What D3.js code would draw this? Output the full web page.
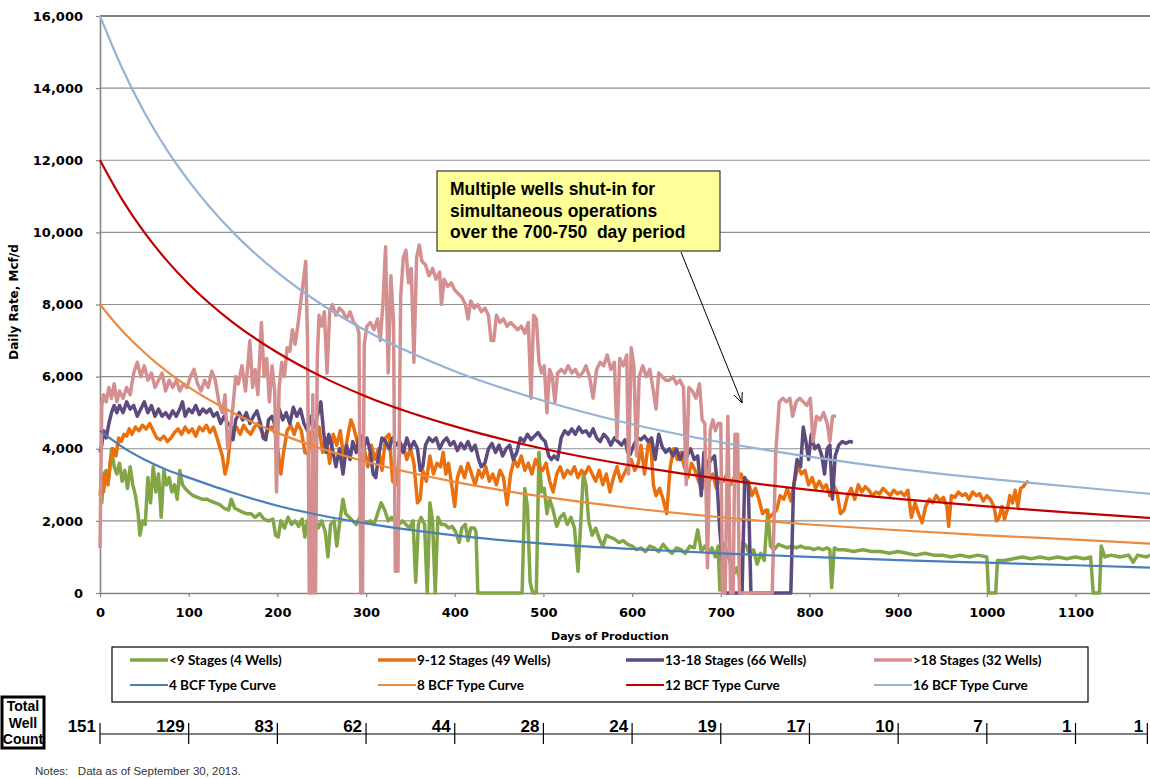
<!DOCTYPE html>
<html>
<head>
<meta charset="utf-8">
<script src="https://cdn.jsdelivr.net/npm/d3@7"></script>
<style>
body { margin: 0; background: #fff; }
svg text { font-family: "DejaVu Sans", Verdana, sans-serif; }
</style>
</head>
<body>
<div id="chart"></div>
<script>
// tick values
var yTicks = [0, 2000, 4000, 6000, 8000, 10000, 12000, 14000, 16000];
var xTicks = [0, 100, 200, 300, 400, 500, 600, 700, 800, 900, 1000, 1100];

// well count row under the chart
var wellCountDays = [0, 100, 200, 300, 400, 500, 600, 700, 800, 900, 1000, 1100, 1181];
var wellCounts = ["151", "129", "83", "62", "44", "28", "24", "19", "17", "10", "7", "1", "1"];

// type curves [day, Mcf/d]
var typeDays = [0, 25, 50, 75, 100, 150, 200, 250, 300, 400, 500, 600, 700, 800, 900, 1000, 1100, 1184];
var bcf4 = [4500, 4050, 3700, 3420, 3200, 2780, 2420, 2150, 1930, 1600, 1370, 1220, 1100, 1000, 910, 840, 770, 705];
var bcf8 = [8000, 7270, 6670, 6150, 5710, 5000, 4440, 4000, 3640, 3080, 2670, 2350, 2100, 1900, 1740, 1600, 1480, 1370];
var bcf12 = [12000, 10910, 10000, 9230, 8570, 7500, 6670, 6000, 5450, 4620, 4000, 3530, 3160, 2860, 2610, 2400, 2220, 2080];
var bcf16 = [16000, 14550, 13330, 12300, 11430, 10000, 8890, 8000, 7270, 6150, 5330, 4680, 4180, 3780, 3440, 3170, 2940, 2750];

// <9 stages [day, Mcf/d]
var stagesLt9 = [[0,2600],[2,2500],[4,3300],[7,3400],[10,3200],[13,4000],[16,3500],[19,3300],[22,3600],[25,3100],[28,3400],[31,2900],[34,3500],[37,3000],[40,2700],[43,2200],[45,1600],[48,2000],[51,1900],[54,3200],[57,2500],[60,3500],[63,2800],[66,3300],[69,2100],[72,3400],[75,3000],[78,3200],[81,2800],[84,3000],[87,2600],[90,3400],[93,3000],[96,2900],[100,2800],[105,2700],[110,2650],[115,2600],[120,2600],[125,2550],[130,2500],[135,2450],[140,2350],[145,2300],[148,2600],[152,2350],[156,2300],[160,2250],[165,2200],[170,2200],[175,2100],[180,2200],[185,2050],[190,2000],[195,2050],[198,1600],[201,1550],[204,2000],[208,1800],[212,2100],[216,1900],[220,2000],[224,1850],[228,2050],[231,1550],[234,2000],[238,1900],[242,2100],[246,1800],[250,2000],[254,1700],[257,1000],[260,1900],[264,2000],[267,1300],[270,1900],[274,2600],[277,2200],[281,2100],[285,2000],[289,1900],[293,2100],[297,2000],[301,1950],[305,2000],[309,1900],[313,2200],[317,2500],[321,2300],[325,2000],[329,2100],[333,2000],[337,1900],[341,2000],[345,1900],[349,1800],[353,2000],[356,300],[359,1900],[362,2100],[366,1900],[369,0],[372,2500],[375,2000],[378,0],[381,2100],[385,1900],[389,1900],[393,1800],[397,1850],[401,1700],[405,1400],[408,1800],[412,1900],[415,1450],[418,1800],[422,1800],[424,1700],[426,0],[476,0],[479,2900],[482,2400],[485,300],[488,0],[492,0],[495,3900],[498,2800],[501,2900],[504,2200],[507,2600],[511,2300],[515,1850],[519,2100],[523,2200],[527,1900],[531,2100],[535,1800],[539,600],[542,1900],[545,3300],[548,3000],[551,2000],[555,1600],[559,1800],[563,1500],[567,1300],[571,1600],[575,1550],[580,1500],[585,1400],[590,1450],[595,1350],[600,1300],[605,1200],[610,1250],[615,1150],[620,1300],[625,1250],[630,1150],[635,1350],[640,1200],[645,1100],[650,1250],[655,1200],[660,1100],[665,1300],[670,1250],[674,1750],[678,1150],[682,1300],[686,1100],[690,1250],[694,1000],[697,1300],[699,80],[702,1400],[706,1200],[710,900],[714,500],[718,700],[722,300],[725,1400],[729,1300],[733,1000],[737,1200],[741,800],[745,1100],[749,900],[753,2300],[756,1300],[760,1200],[765,1350],[770,1300],[775,1250],[780,1300],[785,1250],[790,1300],[795,1250],[800,1250],[805,1200],[810,1250],[815,1200],[820,1250],[823,1200],[825,150],[828,1250],[832,1200],[840,1200],[850,1150],[860,1200],[870,1150],[880,1150],[890,1100],[900,1150],[910,1100],[920,1050],[930,1100],[940,1050],[950,1050],[960,1000],[970,1050],[980,1000],[990,1050],[1000,1000],[1002,0],[1010,0],[1012,900],[1020,900],[1030,950],[1040,1000],[1050,950],[1060,1000],[1070,950],[1080,1000],[1090,950],[1100,1000],[1110,950],[1117,1000],[1120,0],[1127,0],[1129,1300],[1133,1000],[1140,1050],[1150,1000],[1160,1050],[1165,850],[1170,1050],[1180,1000],[1184,1050]];

// 9-12 stages
var stages9to12 = [[0,2700],[2,3200],[4,2800],[6,3300],[9,3000],[12,3700],[15,4000],[18,3800],[21,4300],[24,4200],[27,4400],[30,4350],[33,4550],[36,4400],[40,4600],[44,4500],[48,4650],[52,4550],[56,4700],[60,4500],[64,4300],[68,4250],[72,4350],[76,4200],[80,4300],[84,4450],[88,4550],[92,4400],[96,4600],[100,4450],[104,4550],[108,4350],[112,4600],[116,4500],[120,4650],[124,4450],[128,4600],[132,4300],[135,4050],[138,3800],[141,3300],[144,3600],[147,4300],[150,4500],[154,4600],[158,4400],[162,4650],[166,4500],[170,4400],[174,4600],[178,4700],[182,4500],[186,4350],[190,4550],[194,4600],[198,4400],[201,3900],[204,3300],[207,3900],[211,4500],[215,4650],[219,4400],[223,4700],[227,4500],[231,3900],[235,3850],[239,4500],[243,4200],[247,4600],[251,3900],[255,4300],[259,3600],[263,4400],[267,4100],[271,4500],[275,3700],[279,4300],[283,4800],[286,4600],[290,4200],[294,3700],[298,4000],[302,3500],[306,4100],[310,3700],[314,4000],[318,3400],[322,4300],[326,4400],[330,3100],[334,3000],[338,3900],[342,4100],[346,3700],[350,4000],[354,3600],[358,2500],[361,2600],[364,3400],[368,3100],[372,3800],[376,3300],[380,3600],[384,3500],[387,3900],[390,3300],[393,3600],[396,3100],[400,2400],[403,3200],[407,3500],[411,3200],[415,3600],[419,3300],[423,3000],[427,3400],[431,3200],[435,3500],[439,3100],[443,3300],[447,3000],[451,3400],[455,3200],[459,2450],[463,3300],[467,3700],[471,3500],[475,3800],[479,3400],[483,3600],[487,3300],[491,3700],[495,3500],[499,3400],[503,3600],[507,3100],[511,2800],[515,3300],[519,3500],[523,3200],[527,3400],[531,3300],[535,3500],[539,3200],[543,3400],[547,3300],[551,3500],[555,3300],[559,3100],[563,3400],[567,3000],[571,3300],[575,2800],[579,3200],[583,3500],[587,3100],[591,3300],[595,3500],[599,3700],[603,3400],[607,3600],[610,4100],[614,3300],[618,4100],[621,4200],[624,3000],[627,2700],[631,2900],[635,2600],[639,2200],[643,3500],[647,4000],[651,3700],[655,3900],[659,3500],[663,3200],[667,3600],[671,3400],[675,3100],[679,2900],[683,3500],[687,3100],[691,3300],[695,2900],[699,3200],[703,3100],[707,3300],[711,3000],[715,3200],[719,3100],[723,3300],[727,3000],[731,3100],[735,2700],[739,2900],[743,2600],[747,2200],[751,2300],[755,2100],[759,2200],[763,2300],[767,2700],[771,2600],[775,2900],[779,2550],[783,3100],[787,3500],[791,3300],[795,3400],[799,3000],[803,3200],[807,2900],[811,3100],[815,2900],[819,3000],[823,2700],[827,3000],[831,2800],[835,2200],[839,2300],[843,2700],[847,2900],[851,2600],[855,3000],[859,2800],[863,2950],[867,2850],[871,2700],[875,2800],[879,2750],[883,2900],[887,2800],[891,2700],[895,2850],[899,2750],[903,2800],[907,2700],[911,2850],[915,2100],[919,2500],[923,2200],[927,1950],[931,2400],[935,2600],[939,2500],[943,2700],[947,2550],[951,2650],[955,2400],[957,1850],[960,2700],[964,2650],[968,2800],[972,2700],[976,2750],[980,2600],[984,2800],[988,2700],[992,2750],[996,2550],[1000,2700],[1004,2600],[1008,2400],[1011,2000],[1014,2100],[1017,2400],[1020,2050],[1023,2300],[1026,2700],[1029,2500],[1032,2850],[1035,2400],[1038,2900],[1041,2950],[1044,3050],[1047,3100]];

// 13-18 stages
var stages13to18 = [[0,3900],[2,4100],[4,4500],[7,4300],[10,4700],[13,5000],[16,5200],[19,5000],[22,5200],[26,5000],[30,5300],[34,5100],[38,5200],[42,4900],[46,5100],[50,5300],[54,5000],[58,5200],[62,4900],[66,5100],[70,4900],[74,5000],[78,4850],[82,5050],[86,4900],[90,5100],[93,5300],[96,4900],[100,5100],[104,5000],[108,5200],[112,4950],[116,5100],[120,5000],[124,5100],[128,4900],[132,5000],[136,4700],[140,4900],[144,4700],[148,4600],[150,4250],[153,4800],[157,5000],[161,4800],[165,5000],[169,4700],[173,4900],[177,5050],[181,4700],[184,4300],[187,4250],[190,4800],[194,4900],[198,4600],[202,5100],[206,4800],[210,5000],[214,4700],[218,5150],[222,4900],[226,5100],[230,4700],[234,4500],[238,4900],[242,4600],[246,5000],[249,5300],[252,4500],[255,3900],[258,4400],[262,4000],[266,3500],[270,4000],[274,3300],[278,4100],[282,3700],[285,4200],[289,3900],[293,4400],[297,4000],[301,4300],[305,3900],[308,3300],[311,3200],[314,3800],[318,4300],[322,4200],[326,4000],[330,4300],[334,4100],[338,4200],[342,3900],[346,4300],[350,4000],[354,4200],[358,4000],[361,3400],[364,3500],[367,4100],[371,4300],[375,4200],[379,4300],[383,4000],[387,4200],[391,4300],[395,4100],[399,4200],[403,3950],[407,4150],[411,4000],[415,4200],[419,3950],[423,4100],[427,3700],[430,3500],[434,3600],[438,4000],[442,4150],[446,3900],[450,4100],[454,3800],[458,4000],[462,4100],[466,3700],[470,3900],[474,4300],[478,4200],[482,4400],[486,4250],[490,4350],[494,4450],[498,4300],[502,4200],[506,3800],[509,3700],[512,3800],[516,3700],[520,4300],[524,4500],[528,4400],[532,4550],[536,4400],[540,4600],[544,4450],[548,4500],[552,4350],[556,4550],[560,4300],[564,4200],[568,4400],[572,4300],[576,4100],[580,4300],[584,4200],[588,4100],[592,4250],[595,3900],[598,3850],[602,4100],[606,4300],[610,4250],[614,4350],[618,4200],[622,4300],[626,3700],[630,4400],[634,4050],[638,3900],[642,4000],[646,3800],[650,4000],[654,3700],[658,3900],[662,3800],[666,4000],[670,3700],[674,3800],[678,2700],[681,3900],[685,3500],[689,3700],[693,3800],[696,3000],[699,1700],[702,900],[705,0],[724,0],[727,3200],[731,3000],[734,0],[779,0],[782,2900],[786,3700],[790,3500],[793,4600],[796,4200],[799,3700],[802,4400],[806,4000],[810,4100],[814,3800],[817,3300],[820,4000],[823,4100],[826,2600],[829,3800],[833,4100],[837,4200],[841,4150],[845,4200],[849,4180]];

// >18 stages
var stagesGt18 = [[0,1250],[2,5200],[4,5500],[7,5300],[10,5700],[13,5400],[16,5800],[19,5300],[22,5600],[26,5400],[30,5700],[34,5500],[38,6100],[42,6400],[46,6000],[50,6300],[54,5900],[58,6100],[62,5700],[66,5900],[70,6100],[74,5600],[78,5900],[82,5700],[86,5900],[90,5600],[94,5800],[98,5700],[102,6000],[106,6200],[110,5800],[114,5600],[118,5900],[122,5700],[126,6150],[130,5900],[134,5300],[138,5000],[141,5500],[144,4000],[147,4500],[150,5200],[153,6000],[156,5800],[160,6300],[164,5600],[167,6400],[169,7000],[172,5700],[175,6200],[178,5500],[182,7500],[185,6000],[188,6500],[191,5300],[194,6300],[197,5600],[199,2800],[202,5700],[205,6400],[208,6000],[211,6800],[214,6700],[217,7300],[220,6900],[223,7400],[226,8000],[229,8600],[232,9200],[234,7000],[236,0],[238,0],[240,5500],[241,0],[243,0],[245,6500],[247,7700],[250,7400],[253,7800],[256,6100],[259,7800],[262,8000],[266,7700],[270,7900],[274,7800],[278,7600],[282,7800],[286,7500],[290,7400],[292,7200],[294,0],[296,0],[298,6900],[301,7400],[305,7500],[309,7300],[313,7600],[316,7000],[319,8000],[322,9600],[325,6100],[328,8800],[331,7500],[333,600],[336,600],[339,8200],[342,9300],[345,9500],[348,8600],[351,9000],[354,6400],[357,9300],[360,9650],[363,9200],[367,9100],[371,8800],[375,9000],[379,8700],[383,8900],[385,8000],[388,8700],[392,8500],[396,8600],[400,8400],[404,8300],[408,8200],[412,8000],[415,7600],[418,8100],[422,7900],[426,8000],[430,7800],[434,7900],[438,7700],[441,7000],[444,7000],[447,7700],[451,7500],[455,7600],[459,7400],[463,7500],[467,7400],[471,7300],[475,7400],[479,7200],[483,7500],[486,5400],[489,7700],[492,7600],[495,6400],[498,6100],[501,6300],[504,5000],[507,6200],[510,6000],[513,5300],[516,6100],[520,6200],[524,6100],[528,6300],[532,6100],[536,6200],[540,6000],[544,6100],[548,6300],[552,6000],[556,5400],[560,6200],[564,6400],[568,6300],[572,6600],[576,6200],[580,6400],[583,4300],[586,6500],[590,6300],[594,6600],[596,3300],[599,6800],[602,6300],[605,3800],[608,6000],[612,6300],[616,6000],[620,6200],[624,5600],[627,5100],[630,6100],[634,6000],[638,5900],[642,5900],[646,6000],[650,5800],[654,5900],[658,5700],[661,3000],[664,5700],[668,5600],[672,5400],[676,5800],[679,4800],[682,4700],[685,700],[688,4500],[691,4800],[694,4500],[697,4700],[700,4700],[702,0],[705,0],[708,4900],[711,0],[714,0],[716,4400],[719,4400],[721,0],[758,0],[762,3900],[766,5300],[770,5400],[774,5300],[778,5400],[781,4900],[785,5300],[789,5400],[793,5300],[797,5200],[801,5400],[804,4200],[808,4900],[812,4800],[816,5000],[820,4700],[823,4200],[826,4900],[830,4900]];

var svgWidth = 1150;
var svgHeight = 779;

var margin = {
    top: 16,
    right: 0,
    bottom: 186,
    left: 100
};

var width = svgWidth - margin.left - margin.right;
var height = svgHeight - margin.top - margin.bottom;

var svg = d3.select("#chart")
    .append("svg")
    .attr("width", svgWidth)
    .attr("height", svgHeight);

svg.append("rect")
    .attr("width", svgWidth)
    .attr("height", svgHeight)
    .attr("fill", "#fff");

var chartGroup = svg.append("g")
    .attr("transform", `translate(${margin.left}, ${margin.top})`);

var xScale = d3.scaleLinear().domain([0, 1184]).range([0, width]);
var yScale = d3.scaleLinear().domain([0, 16000]).range([height, 0]);

// horizontal gridlines, top one is black
chartGroup.append("g")
    .selectAll("line")
    .data(yTicks.slice(1))
    .enter()
    .append("line")
    .attr("x1", 0)
    .attr("x2", width)
    .attr("y1", d => yScale(d))
    .attr("y2", d => yScale(d))
    .attr("stroke", d => d === 16000 ? "#000" : "#8e8e8e")
    .attr("stroke-width", 1.2);

// axes
var leftAxis = d3.axisLeft(yScale)
    .tickValues(yTicks)
    .tickSize(4)
    .tickSizeOuter(0)
    .tickPadding(13)
    .tickFormat(d3.format(","));

var bottomAxis = d3.axisBottom(xScale)
    .tickValues(xTicks)
    .tickSize(4)
    .tickSizeOuter(0)
    .tickPadding(11)
    .tickFormat(d3.format("d"));

var yAxis = chartGroup.append("g").call(leftAxis);
var xAxis = chartGroup.append("g")
    .attr("transform", `translate(0, ${height})`)
    .call(bottomAxis);

[xAxis, yAxis].forEach(function(ax) {
    ax.select(".domain").attr("stroke", "#868686").attr("stroke-width", 1.6);
    ax.selectAll(".tick line").attr("stroke", "#868686").attr("stroke-width", 1.2);
    ax.selectAll("text")
        .attr("fill", "#000")
        .style("font-size", "13px")
        .style("font-weight", "bold")
        .style("font-family", "'DejaVu Sans', Verdana, sans-serif");
});

// axis titles
svg.append("text")
    .attr("transform", "translate(18, 302) rotate(-90)")
    .attr("text-anchor", "middle")
    .style("font-size", "12px")
    .style("font-weight", "bold")
    .text("Daily Rate, Mcf/d");

svg.append("text")
    .attr("x", margin.left + xScale(575))
    .attr("y", 640)
    .attr("text-anchor", "middle")
    .style("font-size", "11px")
    .style("font-weight", "bold")
    .text("Days of Production");

// production series, then type curves on top
var rateLine = d3.line()
    .x(d => xScale(d[0]))
    .y(d => yScale(d[1]));

var typeLine = d3.line()
    .x(d => xScale(d[0]))
    .y(d => yScale(d[1]))
    .curve(d3.curveMonotoneX);

var seriesList = [
    {name: "<9 Stages (4 Wells)", data: stagesLt9, color: "#82a646", w: 3.5},
    {name: "9-12 Stages (49 Wells)", data: stages9to12, color: "#e8700f", w: 3.5},
    {name: "13-18 Stages (66 Wells)", data: stages13to18, color: "#5d4a7e", w: 3.5},
    {name: ">18 Stages (32 Wells)", data: stagesGt18, color: "#d49090", w: 3.5}
];

var typeList = [
    {name: "4 BCF Type Curve", data: bcf4, color: "#4a7ebb", w: 2.2},
    {name: "8 BCF Type Curve", data: bcf8, color: "#eb8a40", w: 2.2},
    {name: "12 BCF Type Curve", data: bcf12, color: "#c00000", w: 2.2},
    {name: "16 BCF Type Curve", data: bcf16, color: "#95b3d7", w: 2.2}
];

chartGroup.selectAll(".rate-line")
    .data(seriesList)
    .enter()
    .append("path")
    .attr("class", "rate-line")
    .attr("d", d => rateLine(d.data))
    .attr("fill", "none")
    .attr("stroke", d => d.color)
    .attr("stroke-width", d => d.w)
    .attr("stroke-linejoin", "round");

chartGroup.selectAll(".type-line")
    .data(typeList)
    .enter()
    .append("path")
    .attr("class", "type-line")
    .attr("d", d => typeLine(d.data.map((v, i) => [typeDays[i], v])))
    .attr("fill", "none")
    .attr("stroke", d => d.color)
    .attr("stroke-width", d => d.w);

// callout box and arrow
var callout = svg.append("g");
callout.append("rect")
    .attr("x", 437)
    .attr("y", 171)
    .attr("width", 283)
    .attr("height", 80)
    .attr("fill", "#ffff99")
    .attr("stroke", "#333")
    .attr("stroke-width", 1.2);

var calloutLines = ["Multiple wells shut-in for", "simultaneous operations", "over the 700-750  day period"];
callout.selectAll("text")
    .data(calloutLines)
    .enter()
    .append("text")
    .attr("x", 450)
    .attr("y", (d, i) => 195 + i * 21.5)
    .style("font-family", "'Liberation Sans', Arial, sans-serif")
    .style("font-size", "17.5px")
    .style("font-weight", "bold")
    .style("white-space", "pre")
    .text(d => d);

var ax0 = 681, ay0 = 252, ax1 = 742, ay1 = 403;
var ang = Math.atan2(ay1 - ay0, ax1 - ax0);
callout.append("line")
    .attr("x1", ax0).attr("y1", ay0)
    .attr("x2", ax1).attr("y2", ay1)
    .attr("stroke", "#000")
    .attr("stroke-width", 1);
callout.append("path")
    .attr("d", `M${ax1 - 11 * Math.cos(ang - 0.4)},${ay1 - 11 * Math.sin(ang - 0.4)} L${ax1},${ay1} L${ax1 - 11 * Math.cos(ang + 0.4)},${ay1 - 11 * Math.sin(ang + 0.4)}`)
    .attr("fill", "none")
    .attr("stroke", "#000")
    .attr("stroke-width", 1);

// legend
var legend = svg.append("g");
legend.append("rect")
    .attr("x", 112)
    .attr("y", 647)
    .attr("width", 976)
    .attr("height", 55)
    .attr("fill", "#fff")
    .attr("stroke", "#000")
    .attr("stroke-width", 1.2);

var legendItems = seriesList.concat(typeList);
var legendEntry = legend.selectAll(".entry")
    .data(legendItems)
    .enter()
    .append("g")
    .attr("class", "entry")
    .attr("transform", (d, i) => `translate(${130 + (i % 4) * 248}, ${660 + Math.floor(i / 4) * 25})`);

legendEntry.append("line")
    .attr("x1", 0)
    .attr("x2", 38)
    .attr("stroke", d => d.color)
    .attr("stroke-width", d => d.w === 3.5 ? 3.5 : 2.2);

legendEntry.append("text")
    .attr("x", 39)
    .attr("y", 4.5)
    .style("font-family", "Lato, 'Open Sans', sans-serif")
    .style("font-size", "13.5px")
    .style("font-weight", "bold")
    .text(d => d.name);

// well count row
var wellGroup = svg.append("g");
wellGroup.append("rect")
    .attr("x", 2)
    .attr("y", 697)
    .attr("width", 42)
    .attr("height", 51)
    .attr("fill", "none")
    .attr("stroke", "#000")
    .attr("stroke-width", 3);

wellGroup.selectAll(".wc-title")
    .data(["Total", "Well", "Count"])
    .enter()
    .append("text")
    .attr("class", "wc-title")
    .attr("x", 23)
    .attr("y", (d, i) => 711 + i * 16.5)
    .attr("text-anchor", "middle")
    .style("font-family", "'Liberation Sans', Arial, sans-serif")
    .style("font-size", "14px")
    .style("font-weight", "bold")
    .text(d => d);

var wcY = 734;
wellGroup.append("line")
    .attr("x1", margin.left + xScale(wellCountDays[0]))
    .attr("x2", margin.left + xScale(wellCountDays[wellCountDays.length - 1]))
    .attr("y1", wcY)
    .attr("y2", wcY)
    .attr("stroke", "#000")
    .attr("stroke-width", 1);

wellGroup.selectAll(".wc-tick")
    .data(wellCountDays)
    .enter()
    .append("line")
    .attr("class", "wc-tick")
    .attr("x1", d => margin.left + xScale(d))
    .attr("x2", d => margin.left + xScale(d))
    .attr("y1", wcY - 11)
    .attr("y2", wcY + 10)
    .attr("stroke", "#000")
    .attr("stroke-width", 1.2);

wellGroup.selectAll(".wc-label")
    .data(wellCounts)
    .enter()
    .append("text")
    .attr("class", "wc-label")
    .attr("x", (d, i) => margin.left + xScale(wellCountDays[i]) - 4)
    .attr("y", wcY - 2)
    .attr("text-anchor", "end")
    .style("font-family", "'Liberation Sans', Arial, sans-serif")
    .style("font-size", "17px")
    .style("font-weight", "bold")
    .text(d => d);

// notes
svg.append("text")
    .attr("x", 35)
    .attr("y", 775)
    .style("font-family", "'Liberation Sans', Arial, sans-serif")
    .style("font-size", "11.5px")
    .style("white-space", "pre")
    .attr("fill", "#333")
    .text("Notes:   Data as of September 30, 2013.");
</script>
</body>
</html>
